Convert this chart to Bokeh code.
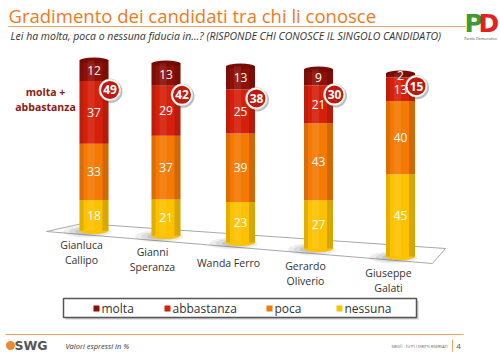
from bokeh.plotting import figure
from bokeh.models import Range1d
from bokeh.embed import file_html
from bokeh.resources import INLINE
from bokeh.core.properties import value

# ---------------- data ----------------
candidates = ["Gianluca\nCallipo", "Gianni\nSperanza", "Wanda Ferro", "Gerardo\nOliverio", "Giuseppe\nGalati"]
molta = [12, 13, 13, 9, 2]
abbastanza = [37, 29, 25, 21, 13]
poca = [33, 37, 39, 43, 40]
nessuna = [18, 21, 23, 27, 45]
series_names = ["molta", "abbastanza", "poca", "nessuna"]
totals = [m + a for m, a in zip(molta, abbastanza)]

title = "Gradimento dei candidati tra chi li conosce"
subtitle = "Lei ha molta, poca o nessuna fiducia in\u2026? (RISPONDE CHI CONOSCE IL SINGOLO CANDIDATO)"
note = "Valori espressi in %"

# ---------------- layout / style ----------------
colors = {"molta": "#8E1006", "abbastanza": "#D5210C", "poca": "#F57A05", "nessuna": "#FCC200"}
bar_x = [93.5, 165.5, 240, 318, 400]       # perspective positions (page px)
bar_base = [230, 235, 242, 248, 256]
bar_scale = [1.70, 1.72, 1.76, 1.79, 1.83]
bar_w = 29
label_x = [81, 152, 228, 305, 388]
label_y = [252, 259, 262, 273, 280]
FONT = "Open Sans"
W, H = 500, 359

p = figure(width=W, height=H, x_range=Range1d(0, W), y_range=Range1d(H, 0),
           output_backend="svg", toolbar_location=None, min_border=0,
           x_axis_location=None, y_axis_location=None)
p.grid.visible = False
p.outline_line_color = None
p.background_fill_color = "white"
p.border_fill_color = "white"

# title & lines
p.text(x=[8], y=[15], text=[title], text_font=value(FONT), text_font_size="18.5px",
       text_color="#F07A1A", text_baseline="middle", text_align="left")
p.segment(x0=[8], y0=[26], x1=[465], y1=[26], line_color="#F5A05A", line_width=1.2)
p.text(x=[10], y=[35], text=[subtitle], text_font=value(FONT), text_font_size="10.5px",
       text_font_style="italic", text_color="#333333", text_baseline="middle", text_align="left")

# PD logo
p.text(x=[464], y=[23], text=["P"], text_font=value("DejaVu Sans"), text_font_size="25px",
       text_font_style="bold", text_color="#3C9B34", text_baseline="middle", text_align="left")
p.text(x=[478], y=[23], text=["D"], text_font=value("DejaVu Sans"), text_font_size="25px",
       text_font_style="bold", text_color="#E3211E", text_baseline="middle", text_align="left")
p.text(x=[480], y=[38], text=["Partito Democratico"], text_font=value(FONT), text_font_size="3.5px",
       text_color="#444444", text_baseline="middle", text_align="center")

# floor
p.patch(x=[46, 82, 445, 432], y=[231, 223, 248, 263], fill_color="white",
        line_color="#A8A8A8", line_width=1)

# shadows
for k, a in [(1.0, 0.10), (0.75, 0.12), (0.5, 0.15)]:
    p.ellipse(x=[x - 7 for x in bar_x], y=[b + 1 for b in bar_base], width=48 * k, height=12 * k,
              fill_color="#555555", fill_alpha=a, line_color=None)

# stacked cylinders (bottom to top: nessuna, poca, abbastanza, molta)
vals = {"molta": molta, "abbastanza": abbastanza, "poca": poca, "nessuna": nessuna}
cum = [0] * len(candidates)
seg_mid = {}
p.ellipse(x=bar_x, y=bar_base, width=bar_w, height=7, fill_color=colors["nessuna"], line_color=None)
for s in ["nessuna", "poca", "abbastanza", "molta"]:
    bottoms = [b - c * sc for b, c, sc in zip(bar_base, cum, bar_scale)]
    new_cum = [c + v for c, v in zip(cum, vals[s])]
    tops = [b - c * sc for b, c, sc in zip(bar_base, new_cum, bar_scale)]
    p.vbar(x=bar_x, width=bar_w, bottom=bottoms, top=tops, fill_color=colors[s], line_color=None)
    seg_mid[s] = [(t + bt) / 2 for t, bt in zip(tops, bottoms)]
    cum = new_cum
bar_top = [b - c * sc for b, c, sc in zip(bar_base, cum, bar_scale)]
p.ellipse(x=bar_x, y=bar_top, width=bar_w, height=6, fill_color="#7A0B04", line_color=None)

# cylinder shading
p.vbar(x=[x - bar_w / 2 + 2 for x in bar_x], width=4, bottom=bar_base, top=bar_top,
       fill_color="black", fill_alpha=0.10, line_color=None)
p.vbar(x=[x + bar_w / 2 - 3 for x in bar_x], width=6, bottom=bar_base, top=bar_top,
       fill_color="black", fill_alpha=0.14, line_color=None)
p.vbar(x=[x - 3 for x in bar_x], width=7, bottom=bar_base, top=bar_top,
       fill_color="white", fill_alpha=0.08, line_color=None)

# segment labels
for s in series_names:
    p.text(x=bar_x, y=seg_mid[s], text=[str(v) for v in vals[s]], text_font=value(FONT),
           text_font_size="12px", text_color="white", text_baseline="middle", text_align="center")

# total badges (sit on the molta/abbastanza boundary, right side of each cylinder)
bx = [x + 16 for x in bar_x]
by = [b - (n + po + a) * sc + 9 for b, n, po, a, sc in zip(bar_base, nessuna, poca, abbastanza, bar_scale)]
p.scatter(x=[x + 1 for x in bx], y=[y + 1.5 for y in by], size=23, marker="circle",
          fill_color="#444444", fill_alpha=0.35, line_color=None)
p.scatter(x=bx, y=by, size=22, marker="circle", fill_color="white", line_color="#BBBBBB", line_width=0.5)
p.scatter(x=bx, y=by, size=18, marker="circle", fill_color="#C2180C", line_color=None)
p.text(x=bx, y=by, text=[str(t) for t in totals], text_font=value(FONT), text_font_size="12px",
       text_font_style="bold", text_color="white", text_baseline="middle", text_align="center")

p.text(x=[45], y=[99], text=["molta +\nabbastanza"], text_font=value(FONT), text_font_size="10.5px",
       text_font_style="bold", text_color="#8E1A10", text_baseline="middle", text_align="center",
       text_line_height=1.1)

# category labels
p.text(x=label_x, y=label_y, text=candidates, text_font=value(FONT), text_font_size="10.5px",
       text_color="#333333", text_baseline="middle", text_align="center", text_line_height=1.05)

# legend box
p.quad(left=[65], right=[418], top=[300], bottom=[319], fill_color="#999999", fill_alpha=0.5, line_color=None)
p.quad(left=[63], right=[416], top=[298], bottom=[317], fill_color="white", line_color="#555555", line_width=1.5)
leg_sq_x = [96, 167, 269, 339]
p.scatter(x=leg_sq_x, y=[308] * 4, marker="square", size=6,
          fill_color=[colors[s] for s in series_names], line_color=None)
p.text(x=[x + 5 for x in leg_sq_x], y=[308] * 4, text=series_names, text_font=value(FONT),
       text_font_size="12px", text_color="#333333", text_baseline="middle", text_align="left")

# footer
p.segment(x0=[5], y0=[334], x1=[463], y1=[334], line_color="#F5A05A", line_width=1.2)
p.scatter(x=[10], y=[345], marker="circle", size=9, fill_color="#F08A30", line_color=None)
p.text(x=[14], y=[345], text=["SWG"], text_font=value("DejaVu Sans"), text_font_size="12.5px",
       text_font_style="bold", text_color="#555555", text_baseline="middle", text_align="left")
p.text(x=[65], y=[345], text=[note], text_font=value(FONT), text_font_size="7.5px",
       text_font_style="italic", text_color="#333333", text_baseline="middle", text_align="left")
p.text(x=[447], y=[346], text=["SWG\u00a9 - TUTTI I DIRITTI RISERVATI"], text_font=value(FONT),
       text_font_size="3.6px", text_color="#555555", text_baseline="middle", text_align="right")
p.segment(x0=[452], y0=[339], x1=[452], y1=[351], line_color="#F5A05A", line_width=1)
p.text(x=[458], y=[346], text=["4"], text_font=value(FONT), text_font_size="8px",
       text_color="#555555", text_baseline="middle", text_align="center")

open("out.html", "w").write(file_html(p, INLINE))
